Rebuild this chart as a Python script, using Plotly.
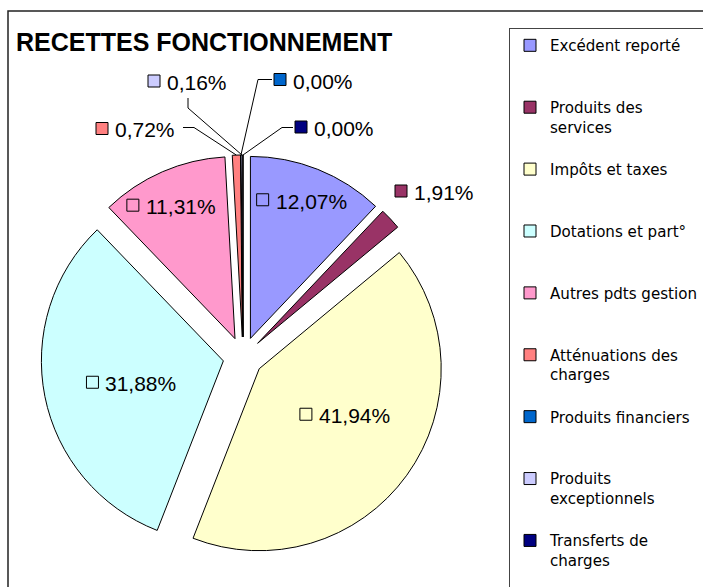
import math
import plotly.graph_objects as go

# ---------------- data ----------------
categories = ["Excédent reporté", "Produits des services", "Impôts et taxes",
              "Dotations et part°", "Autres pdts gestion", "Atténuations des charges",
              "Produits financiers", "Produits exceptionnels", "Transferts de charges"]
values = [12.07, 1.91, 41.94, 31.88, 11.31, 0.72, 0.001, 0.16, 0.001]
legend_text = ["Excédent reporté", "Produits des<br>services", "Impôts et taxes",
               "Dotations et part°", "Autres pdts gestion", "Atténuations des<br>charges",
               "Produits financiers", "Produits<br>exceptionnels", "Transferts de<br>charges"]
colors = ["#9999FF", "#993366", "#FFFFCC", "#CCFFFF", "#FF99CC",
          "#FF8080", "#0066CC", "#CCCCFF", "#000080"]
title_text = "RECETTES FONCTIONNEMENT"

# ---------------- layout constants ----------------
W, H = 703, 587
FONT = "Liberation Sans"
LBL_SIZE = 21
PULL = 0.11
# pie domain in pixels
DX0, DX1, DY0, DY1 = 41, 445, 155, 559


def X(px):
    return px / W


def Y(py):
    return 1 - py / H


def pad3(s):
    n = s.count("<br>") + 1
    return s + "<br>\u00a0" * (3 - n)


legend_labels = [pad3(s) for s in legend_text]

fig = go.Figure(go.Pie(
    labels=legend_labels,
    values=values,
    sort=False,
    direction="clockwise",
    rotation=0,
    pull=[PULL] * len(values),
    marker=dict(colors=colors, line=dict(color="black", width=1)),
    textinfo="none",
    domain=dict(x=[X(DX0), X(DX1)], y=[Y(DY1), Y(DY0)]),
    hoverinfo="label+value",
    showlegend=True,
))

# ---------- geometry derived from the data ----------
cx = (DX0 + DX1) / 2
cy = (DY0 + DY1) / 2
R = min(DX1 - DX0, DY1 - DY0) / 2 / (1 + PULL)
tot = sum(values)
mids = []
cum = 0
for v in values:
    a0 = cum / tot * 2 * math.pi
    cum += v
    a1 = cum / tot * 2 * math.pi
    mids.append((a0 + a1) / 2)


def slice_point(i, frac):
    """point at radius frac*R from the pulled vertex of slice i, along its mid angle"""
    m = mids[i]
    r = R * (PULL + frac)
    return cx + r * math.sin(m), cy - r * math.cos(m)


def fmt(v):
    return f"{v:.2f}".replace(".", ",") + "%"


shapes = []
annotations = []
SQ = 12
GAP = 7


def add_label(i, sx, sy):
    """legend-key square at left x = sx, vertical centre sy, then the value text"""
    shapes.append(dict(type="rect", xref="paper", yref="paper",
                       x0=X(sx), x1=X(sx + SQ), y0=Y(sy + SQ / 2), y1=Y(sy - SQ / 2),
                       fillcolor=colors[i], line=dict(color="black", width=1)))
    annotations.append(dict(xref="paper", yref="paper", x=X(sx + SQ + GAP - 2), y=Y(sy + 1.5),
                            xanchor="left", yanchor="middle", showarrow=False,
                            text=fmt(values[i]),
                            font=dict(family=FONT, size=LBL_SIZE, color="black")))


# inside labels: radial fraction of R along the slice mid-angle, plus small nudge (px)
inside = {0: (0.82, -2, 0), 2: (0.54, 8, -12), 3: (0.515, 2, 3), 4: (0.80, -3, 0)}
HALF = 47  # half width of "□ dd,dd%" group
for i, (frac, nx, ny) in inside.items():
    px, py = slice_point(i, frac)
    add_label(i, px - HALF + nx, py + ny)

# outside labels: (square left px, centre y px, leader elbow points)
outside = {
    1: (395, 191, None),
    5: (96, 128.5, [(183, 127.5), (194, 127.5)]),
    6: (274, 79.5, [(272, 79.5), (258, 79.5)]),
    7: (148, 81, [(188, 98), (188, 108)]),
    8: (295, 127, [(293, 127.5), (282, 127.5)]),
}
for i, (sx, sy, elbow) in outside.items():
    add_label(i, sx, sy)
    if elbow:
        tx, ty = slice_point(i, 1.0)
        pts = elbow + [(tx, ty)]
        path = "M " + " L ".join(f"{X(a)},{Y(b)}" for a, b in pts)
        shapes.append(dict(type="path", xref="paper", yref="paper", path=path,
                           line=dict(color="black", width=1)))

# outer frame
shapes.append(dict(type="rect", xref="paper", yref="paper",
                   x0=X(8), x1=X(W + 20), y0=Y(H + 20), y1=Y(11),
                   line=dict(color="#222222", width=1.5), fillcolor="rgba(0,0,0,0)",
                   layer="below"))

fig.update_layout(
    width=W, height=H,
    margin=dict(l=0, r=0, t=0, b=0, autoexpand=False),
    paper_bgcolor="white", plot_bgcolor="white",
    title=dict(text=f"<b>{title_text}</b>", x=X(16), xanchor="left",
               y=Y(42), yanchor="middle", yref="container",
               font=dict(family=FONT, size=25, color="black")),
    legend=dict(x=X(509), y=Y(28), xanchor="left", yanchor="top",
                bgcolor="white", bordercolor="#444444", borderwidth=1,
                font=dict(family="DejaVu Sans", size=15.1, color="black"),
                valign="top", traceorder="normal"),
    shapes=shapes,
    annotations=annotations,
)

fig.write_html("out.html",
               config={"displayModeBar": False},
               post_script="document.body.style.margin='0';document.body.style.overflow='hidden';")
